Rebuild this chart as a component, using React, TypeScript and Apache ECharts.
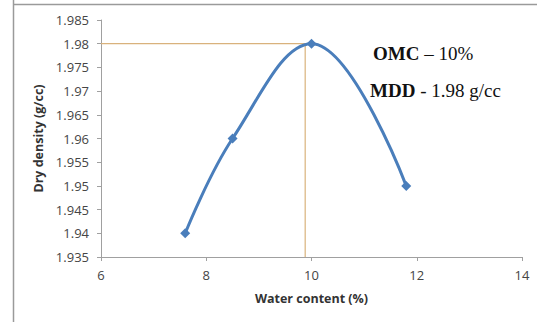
import React, { useEffect, useRef } from "react";
import * as echarts from "echarts";

const waterContent = [7.6, 8.5, 10, 11.8];
const dryDensity = [1.94, 1.96, 1.98, 1.95];
const omc = 9.88;
const mdd = 1.98;
const yMin = 1.935;

export default function App() {
  const ref = useRef<HTMLDivElement>(null);
  useEffect(() => {
    const chart = echarts.init(ref.current!, undefined, { renderer: "svg" });
    const axisColor = "#a0a0a0";
    const labelColor = "#454545";
    chart.setOption({
      animation: false,
      backgroundColor: "#fff",
      grid: { left: 101, right: 15, top: 20, bottom: 65 },
      xAxis: {
        type: "value",
        min: 6,
        max: 14,
        interval: 2,
        name: "Water content (%)",
        nameLocation: "middle",
        nameGap: 35,
        nameTextStyle: { fontFamily: "Open Sans", fontWeight: "bold", fontSize: 12.5, color: "#333" },
        axisLine: { lineStyle: { color: axisColor } },
        axisTick: { show: true, length: 4, lineStyle: { color: axisColor } },
        axisLabel: { fontFamily: "Open Sans", fontSize: 13, color: labelColor, margin: 11 },
        splitLine: { show: false },
      },
      yAxis: {
        type: "value",
        min: 1.935,
        max: 1.985,
        interval: 0.005,
        name: "Dry density (g/cc)",
        nameLocation: "middle",
        nameGap: 53,
        nameTextStyle: { fontFamily: "Open Sans", fontWeight: "bold", fontSize: 12.5, color: "#333" },
        axisLine: { show: true, lineStyle: { color: axisColor } },
        axisTick: { show: true, length: 4, lineStyle: { color: axisColor } },
        axisLabel: {
          fontFamily: "Open Sans",
          fontSize: 13,
          color: labelColor,
          margin: 12,
          formatter: (v: number) => String(parseFloat(v.toFixed(3))),
        },
        splitLine: { show: false },
      },
      series: [
        {
          type: "line",
          data: [
            [6, mdd],
            [omc, mdd],
            [omc, yMin],
          ],
          symbol: "none",
          lineStyle: { color: "#d9b27c", width: 1.2 },
          z: 1,
        },
        {
          type: "line",
          data: waterContent.map((x, i) => [x, dryDensity[i]]),
          smooth: 0.4,
          symbol: "diamond",
          symbolSize: 10,
          itemStyle: { color: "#4a7ebb" },
          lineStyle: { color: "#4a7ebb", width: 3 },
          z: 3,
        },
      ],
      graphic: [
        { type: "line", shape: { x1: 13.5, y1: 0, x2: 13.5, y2: 322 }, style: { stroke: "#9a9a9a", lineWidth: 1.5 } },
        { type: "line", shape: { x1: 13, y1: 4.5, x2: 537, y2: 4.5 }, style: { stroke: "#9a9a9a", lineWidth: 1.5 } },
        {
          type: "text",
          x: 373,
          y: 53,
          style: {
            text: "{b|OMC} – 10%",
            rich: { b: { fontWeight: "bold", fontFamily: "Liberation Serif", fontSize: 19, fill: "#111" } },
            fontFamily: "Liberation Serif",
            fontSize: 19,
            fill: "#111",
            verticalAlign: "middle",
          },
        },
        {
          type: "text",
          x: 370,
          y: 90,
          style: {
            text: "{b|MDD} - 1.98 g/cc",
            rich: { b: { fontWeight: "bold", fontFamily: "Liberation Serif", fontSize: 19, fill: "#111" } },
            fontFamily: "Liberation Serif",
            fontSize: 19,
            fill: "#111",
            verticalAlign: "middle",
          },
        },
      ],
    });
    return () => chart.dispose();
  }, []);
  return <div ref={ref} style={{ width: 537, height: 322, position: "absolute", left: 0, top: 0 }} />;
}
